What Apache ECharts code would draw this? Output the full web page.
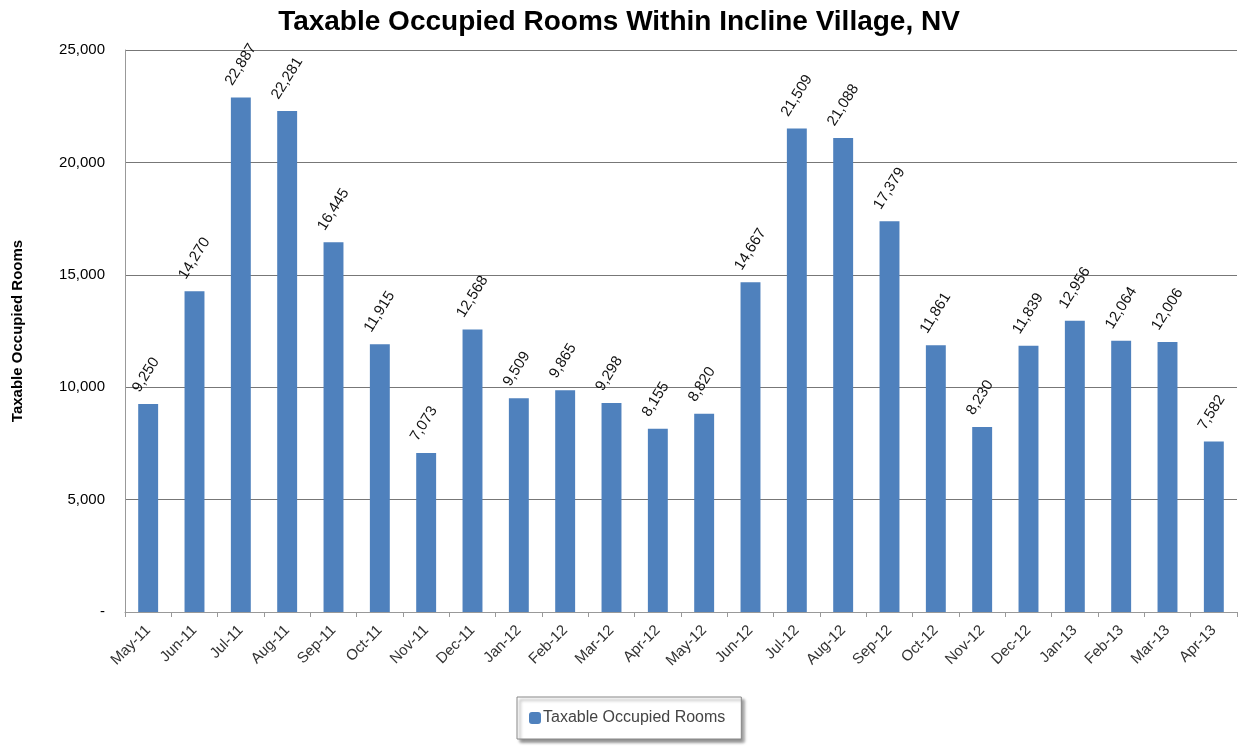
<!DOCTYPE html>
<html lang="en">
<head>
    <meta charset="UTF-8">
    <title>Taxable Occupied Rooms Within Incline Village, NV</title>
    <script src="https://cdn.jsdelivr.net/npm/echarts@6/dist/echarts.min.js"></script>
    <style>
        html, body { margin: 0; padding: 0; background: #fff; }
        #chart { width: 1238px; height: 746px; }
    </style>
</head>
<body>
    <div id="chart"></div>
    <script>
        var months = ['May-11', 'Jun-11', 'Jul-11', 'Aug-11', 'Sep-11', 'Oct-11', 'Nov-11', 'Dec-11',
            'Jan-12', 'Feb-12', 'Mar-12', 'Apr-12', 'May-12', 'Jun-12', 'Jul-12', 'Aug-12',
            'Sep-12', 'Oct-12', 'Nov-12', 'Dec-12', 'Jan-13', 'Feb-13', 'Mar-13', 'Apr-13'];
        var rooms = [9250, 14270, 22887, 22281, 16445, 11915, 7073, 12568,
            9509, 9865, 9298, 8155, 8820, 14667, 21509, 21088,
            17379, 11861, 8230, 11839, 12956, 12064, 12006, 7582];
        var seriesName = 'Taxable Occupied Rooms';

        var fmt = function (v) { return v.toLocaleString('en-US'); };

        var myChart = echarts.init(document.getElementById('chart'));
        var option = {
            animation: false,
            textStyle: { fontFamily: 'Liberation Sans' },
            title: {
                text: 'Taxable Occupied Rooms Within Incline Village, NV',
                left: 'center',
                top: 3,
                textStyle: { fontSize: 28, fontWeight: 'bold', color: '#000' }
            },
            legend: {
                data: [seriesName],
                bottom: 7,
                left: 517,
                itemWidth: 12,
                itemHeight: 12,
                itemGap: 4,
                padding: [13, 16, 13, 12],
                borderColor: '#888',
                borderWidth: 1,
                backgroundColor: '#fff',
                shadowColor: 'rgba(0,0,0,0.45)',
                shadowBlur: 3,
                shadowOffsetX: 3,
                shadowOffsetY: 3,
                textStyle: { fontSize: 16, color: '#444', padding: [0, 0, 0, -3] }
            },
            grid: { left: 125, right: 1, top: 50, bottom: 134 },
            xAxis: {
                type: 'category',
                data: months,
                axisLine: { lineStyle: { color: '#999' } },
                axisTick: { show: true, length: 5, lineStyle: { color: '#999' } },
                axisLabel: { rotate: 45, fontSize: 15, color: '#333', margin: 16, interval: 0 }
            },
            yAxis: {
                type: 'value',
                min: 0,
                max: 25000,
                interval: 5000,
                name: 'Taxable Occupied Rooms',
                nameLocation: 'middle',
                nameGap: 100,
                nameTextStyle: { fontSize: 15, fontWeight: 'bold', color: '#000' },
                axisLine: { show: true, lineStyle: { color: '#999' } },
                axisTick: { show: false },
                axisLabel: {
                    fontSize: 15, color: '#000', margin: 20,
                    formatter: function (v) { return v === 0 ? '-' : fmt(v); }
                },
                splitLine: { lineStyle: { color: '#777', width: 1 } }
            },
            series: [{
                name: seriesName,
                type: 'bar',
                data: rooms,
                barWidth: '43%',
                itemStyle: { color: '#4F81BD' },
                label: {
                    show: true,
                    position: 'top',
                    rotate: 58,
                    align: 'left',
                    verticalAlign: 'middle',
                    distance: 14,
                    offset: [-7, -10],
                    fontSize: 15,
                    color: '#111',
                    formatter: function (p) { return fmt(p.value); }
                }
            }]
        };
        myChart.setOption(option);
    </script>
</body>
</html>
